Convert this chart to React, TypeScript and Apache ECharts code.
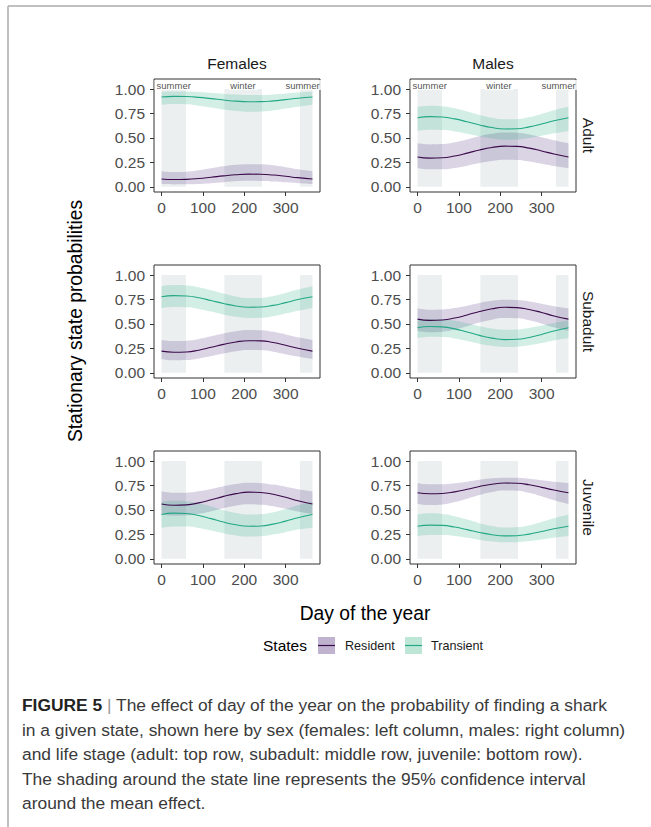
import React, { useEffect, useRef } from "react";
import * as echarts from "echarts";

// ---------- data ----------
const days = [0, 30, 60, 90, 120, 150, 180, 210, 240, 270, 300, 330, 365];
const xTicks = [0, 100, 200, 300];
const yTicks = [0, 0.25, 0.5, 0.75, 1];
const sexes = ["Females", "Males"];
const stages = ["Adult", "Subadult", "Juvenile"];
const states = ["Resident", "Transient"];
const seasonNames = ["summer", "winter", "summer"];
const seasonStart = [0, 152, 335];
const seasonEnd = [59, 243, 365];
const seasonLabelDay = [29.5, 197, 341];
const seasonLabelY = 1.04;

// Females – Adult
const femAdultResMean = [0.081, 0.075, 0.077, 0.085, 0.098, 0.112, 0.124, 0.13, 0.129, 0.121, 0.108, 0.094, 0.081];
const femAdultResLo = [0.028, 0.025, 0.026, 0.03, 0.038, 0.048, 0.057, 0.062, 0.061, 0.055, 0.046, 0.036, 0.028];
const femAdultResHi = [0.16, 0.152, 0.155, 0.17, 0.19, 0.21, 0.225, 0.232, 0.23, 0.22, 0.2, 0.18, 0.16];
const femAdultTraMean = [0.919, 0.925, 0.923, 0.915, 0.902, 0.888, 0.876, 0.87, 0.871, 0.879, 0.892, 0.906, 0.919];
const femAdultTraLo = [0.84, 0.848, 0.845, 0.83, 0.81, 0.79, 0.775, 0.768, 0.77, 0.78, 0.8, 0.82, 0.84];
const femAdultTraHi = [0.972, 0.975, 0.974, 0.97, 0.962, 0.952, 0.943, 0.938, 0.939, 0.945, 0.954, 0.964, 0.972];

// Males – Adult
const malAdultResMean = [0.306, 0.294, 0.297, 0.316, 0.345, 0.377, 0.402, 0.416, 0.414, 0.396, 0.367, 0.336, 0.306];
const malAdultResLo = [0.191, 0.179, 0.18, 0.194, 0.217, 0.243, 0.264, 0.276, 0.274, 0.259, 0.237, 0.214, 0.191];
const malAdultResHi = [0.446, 0.434, 0.437, 0.456, 0.485, 0.517, 0.542, 0.556, 0.554, 0.536, 0.507, 0.476, 0.446];
const malAdultTraMean = [0.706, 0.718, 0.714, 0.695, 0.665, 0.633, 0.606, 0.592, 0.594, 0.613, 0.642, 0.675, 0.706];
const malAdultTraLo = [0.571, 0.583, 0.581, 0.567, 0.543, 0.517, 0.494, 0.482, 0.484, 0.499, 0.522, 0.547, 0.571];
const malAdultTraHi = [0.818, 0.83, 0.824, 0.803, 0.77, 0.735, 0.706, 0.69, 0.692, 0.713, 0.746, 0.783, 0.818];

// Females – Subadult
const femSubResMean = [0.222, 0.211, 0.214, 0.232, 0.261, 0.291, 0.316, 0.329, 0.327, 0.31, 0.282, 0.251, 0.222];
const femSubResLo = [0.14, 0.129, 0.131, 0.147, 0.172, 0.199, 0.222, 0.234, 0.232, 0.217, 0.191, 0.166, 0.14];
const femSubResHi = [0.337, 0.326, 0.329, 0.346, 0.374, 0.402, 0.425, 0.437, 0.435, 0.419, 0.393, 0.364, 0.337];
const femSubTraMean = [0.778, 0.789, 0.786, 0.768, 0.739, 0.709, 0.684, 0.671, 0.673, 0.69, 0.718, 0.749, 0.778];
const femSubTraLo = [0.663, 0.674, 0.671, 0.654, 0.626, 0.597, 0.573, 0.561, 0.563, 0.579, 0.606, 0.635, 0.663];
const femSubTraHi = [0.886, 0.897, 0.894, 0.875, 0.844, 0.811, 0.78, 0.764, 0.766, 0.786, 0.817, 0.852, 0.886];

// Males – Subadult
const malSubResMean = [0.549, 0.536, 0.54, 0.56, 0.592, 0.627, 0.655, 0.67, 0.667, 0.648, 0.617, 0.582, 0.549];
const malSubResLo = [0.429, 0.416, 0.421, 0.443, 0.477, 0.515, 0.544, 0.56, 0.557, 0.537, 0.503, 0.465, 0.429];
const malSubResHi = [0.661, 0.646, 0.648, 0.662, 0.687, 0.715, 0.736, 0.747, 0.744, 0.73, 0.707, 0.682, 0.661];
const malSubTraMean = [0.461, 0.474, 0.47, 0.45, 0.418, 0.383, 0.355, 0.34, 0.343, 0.362, 0.393, 0.428, 0.461];
const malSubTraLo = [0.356, 0.369, 0.367, 0.352, 0.326, 0.298, 0.276, 0.264, 0.267, 0.282, 0.305, 0.332, 0.356];
const malSubTraHi = [0.535, 0.548, 0.546, 0.532, 0.506, 0.477, 0.453, 0.44, 0.443, 0.459, 0.483, 0.51, 0.535];

// Females – Juvenile
const femJuvResMean = [0.561, 0.548, 0.552, 0.572, 0.604, 0.639, 0.667, 0.682, 0.679, 0.66, 0.629, 0.594, 0.561];
const femJuvResLo = [0.456, 0.442, 0.444, 0.46, 0.487, 0.518, 0.543, 0.557, 0.554, 0.538, 0.512, 0.483, 0.456];
const femJuvResHi = [0.691, 0.676, 0.677, 0.69, 0.714, 0.742, 0.765, 0.777, 0.774, 0.759, 0.736, 0.712, 0.691];
const femJuvTraMean = [0.454, 0.467, 0.463, 0.443, 0.411, 0.376, 0.348, 0.333, 0.336, 0.355, 0.386, 0.421, 0.454];
const femJuvTraLo = [0.318, 0.332, 0.331, 0.316, 0.29, 0.262, 0.24, 0.228, 0.231, 0.248, 0.273, 0.299, 0.318];
const femJuvTraHi = [0.584, 0.595, 0.59, 0.568, 0.534, 0.496, 0.468, 0.453, 0.456, 0.476, 0.509, 0.548, 0.584];

// Males – Juvenile
const malJuvResMean = [0.676, 0.665, 0.668, 0.685, 0.711, 0.74, 0.763, 0.775, 0.773, 0.757, 0.731, 0.703, 0.676];
const malJuvResLo = [0.561, 0.55, 0.556, 0.58, 0.615, 0.653, 0.683, 0.699, 0.697, 0.675, 0.639, 0.599, 0.561];
const malJuvResHi = [0.776, 0.763, 0.763, 0.773, 0.789, 0.808, 0.823, 0.83, 0.828, 0.818, 0.803, 0.789, 0.776];
const malJuvTraMean = [0.334, 0.345, 0.342, 0.325, 0.299, 0.27, 0.247, 0.235, 0.237, 0.253, 0.279, 0.307, 0.334];
const malJuvTraLo = [0.234, 0.245, 0.245, 0.234, 0.215, 0.193, 0.177, 0.169, 0.171, 0.182, 0.199, 0.217, 0.234];
const malJuvTraHi = [0.454, 0.465, 0.459, 0.436, 0.402, 0.365, 0.336, 0.321, 0.323, 0.343, 0.377, 0.415, 0.454];

const captionLines = [
  "in a given state, shown here by sex (females: left column, males: right column)",
  "and life stage (adult: top row, subadult: middle row, juvenile: bottom row).",
  "The shading around the state line represents the 95% confidence interval",
  "around the mean effect.",
];

// ---------- styling ----------
const FONT = "'Liberation Sans', Arial, Helvetica, sans-serif";
const RES_LINE = "#3b0a4a";
const TRA_LINE = "#22a884";
const RES_FILL = "rgba(70,40,125,0.2)";
const TRA_FILL = "rgba(34,175,125,0.2)";
const SEASON_FILL = "#ebeff0";
const GRID_LEFT = [154, 410];
const GRID_TOP = [79, 265, 451];
const GRID_W = 166;
const GRID_H = 113;

const panels = [
  { res: [femAdultResMean, femAdultResLo, femAdultResHi], tra: [femAdultTraMean, femAdultTraLo, femAdultTraHi] },
  { res: [malAdultResMean, malAdultResLo, malAdultResHi], tra: [malAdultTraMean, malAdultTraLo, malAdultTraHi] },
  { res: [femSubResMean, femSubResLo, femSubResHi], tra: [femSubTraMean, femSubTraLo, femSubTraHi] },
  { res: [malSubResMean, malSubResLo, malSubResHi], tra: [malSubTraMean, malSubTraLo, malSubTraHi] },
  { res: [femJuvResMean, femJuvResLo, femJuvResHi], tra: [femJuvTraMean, femJuvTraLo, femJuvTraHi] },
  { res: [malJuvResMean, malJuvResLo, malJuvResHi], tra: [malJuvTraMean, malJuvTraLo, malJuvTraHi] },
];

// Same smoothing rule ECharts uses for `smooth: true` lines (0.5), applied to pixel points.
function smoothSegments(pts: number[][], smooth = 0.5): string {
  let d = "";
  let cpx0 = pts[0][0];
  let cpy0 = pts[0][1];
  for (let i = 1; i < pts.length; i++) {
    const [x, y] = pts[i];
    const [px, py] = pts[i - 1];
    let cpx1 = x, cpy1 = y, ncx = x, ncy = y;
    if (i < pts.length - 1) {
      const [nx, ny] = pts[i + 1];
      let vx = nx - px, vy = ny - py;
      const lp = Math.hypot(x - px, y - py);
      const ln = Math.hypot(nx - x, ny - y);
      const r = ln / (ln + lp);
      ncx = x + vx * smooth * r;
      ncy = y + vy * smooth * r;
      ncx = Math.max(Math.min(ncx, Math.max(nx, x)), Math.min(nx, x));
      ncy = Math.max(Math.min(ncy, Math.max(ny, y)), Math.min(ny, y));
      vx = ncx - x; vy = ncy - y;
      cpx1 = x - (vx * lp) / ln;
      cpy1 = y - (vy * lp) / ln;
      cpx1 = Math.max(Math.min(cpx1, Math.max(px, x)), Math.min(px, x));
      cpy1 = Math.max(Math.min(cpy1, Math.max(py, y)), Math.min(py, y));
      vx = x - cpx1; vy = y - cpy1;
      ncx = x + (vx * ln) / lp;
      ncy = y + (vy * ln) / lp;
    }
    d += ` C${cpx0.toFixed(2)},${cpy0.toFixed(2)} ${cpx1.toFixed(2)},${cpy1.toFixed(2)} ${x.toFixed(2)},${y.toFixed(2)}`;
    cpx0 = ncx;
    cpy0 = ncy;
  }
  return d;
}

function ribbonPath(upper: number[][], lower: number[][]): string {
  const low = lower.slice().reverse();
  return (
    `M${upper[0][0].toFixed(2)},${upper[0][1].toFixed(2)}` +
    smoothSegments(upper) +
    ` L${low[0][0].toFixed(2)},${low[0][1].toFixed(2)}` +
    smoothSegments(low) +
    " Z"
  );
}

function buildOption() {
  const grid: any[] = [];
  const xAxis: any[] = [];
  const yAxis: any[] = [];
  const series: any[] = [];
  const pair = (arr: number[]) => days.map((d, k) => [d, arr[k]]);

  panels.forEach((p, i) => {
    const row = Math.floor(i / 2);
    const col = i % 2;
    grid.push({
      left: GRID_LEFT[col], top: GRID_TOP[row], width: GRID_W, height: GRID_H,
      show: true, borderColor: "#333333", borderWidth: 1, backgroundColor: "#ffffff",
    });
    xAxis.push({
      type: "value", gridIndex: i, min: -18.25, max: 383.25,
      splitLine: { show: false },
      axisLine: { show: false, onZero: false },
      axisTick: { show: true, length: 4, customValues: xTicks, lineStyle: { color: "#333333", width: 1 } },
      axisLabel: { customValues: xTicks, color: "#4d4d4d", fontSize: 15.5, margin: 7, fontFamily: FONT },
    });
    yAxis.push({
      type: "value", gridIndex: i, min: -0.0525, max: 1.1025,
      splitLine: { show: false },
      axisLine: { show: false, onZero: false },
      axisTick: { show: true, length: 4, customValues: yTicks, lineStyle: { color: "#333333", width: 1 } },
      axisLabel: {
        customValues: yTicks, color: "#4d4d4d", fontSize: 15.5, margin: 9, fontFamily: FONT,
        formatter: (v: number) => v.toFixed(2),
      },
    });
    // seasons
    series.push({
      type: "line", xAxisIndex: i, yAxisIndex: i, data: [], silent: true, symbol: "none",
      markArea: {
        silent: true, itemStyle: { color: SEASON_FILL },
        data: seasonStart.map((s, k) => [{ xAxis: s, yAxis: 0 }, { xAxis: seasonEnd[k], yAxis: 1 }]),
      },
    });
    const [rM, rL, rH] = p.res;
    const [tM, tL, tH] = p.tra;
    const ribbon = (lo: number[], hi: number[], fill: string) => {
      series.push({
        type: "custom", xAxisIndex: i, yAxisIndex: i, silent: true, z: 2, clip: true,
        data: [[days[0], lo[0]]],
        renderItem: (_params: any, api: any) => {
          const up = days.map((d, k) => api.coord([d, hi[k]]));
          const dn = days.map((d, k) => api.coord([d, lo[k]]));
          return { type: "path", shape: { pathData: ribbonPath(up, dn) }, style: { fill, stroke: null } };
        },
      });
    };
    ribbon(rL, rH, RES_FILL);
    ribbon(tL, tH, TRA_FILL);
    series.push({
      type: "line", name: states[0], xAxisIndex: i, yAxisIndex: i, data: pair(rM), smooth: true, symbol: "none",
      lineStyle: { color: RES_LINE, width: 1.1 }, silent: true, z: 3,
    });
    series.push({
      type: "line", name: states[1], xAxisIndex: i, yAxisIndex: i, data: pair(tM), smooth: true, symbol: "none",
      lineStyle: { color: TRA_LINE, width: 1.1 }, silent: true, z: 3,
    });
    if (row === 0) {
      series.push({
        type: "scatter", xAxisIndex: i, yAxisIndex: i, silent: true, z: 5, symbolSize: 1,
        itemStyle: { color: "rgba(0,0,0,0)" },
        data: seasonLabelDay.map((d, k) => ({ value: [d, seasonLabelY], name: seasonNames[k] })),
        label: {
          show: true, position: "inside", formatter: (pp: any) => pp.name, fontSize: 9.5, color: "#1a1a1a",
          backgroundColor: "#ffffff", padding: [0, 2, 0, 2], lineHeight: 10, fontFamily: FONT,
        },
      });
    }
  });

  const graphic: any[] = [];
  // page frame
  graphic.push({ type: "line", shape: { x1: 8, y1: 6, x2: 651, y2: 6 }, style: { stroke: "#ababab", lineWidth: 1.5 }, silent: true });
  graphic.push({ type: "line", shape: { x1: 8, y1: 6, x2: 8, y2: 827 }, style: { stroke: "#ababab", lineWidth: 1.5 }, silent: true });
  // column titles
  sexes.forEach((s, c) => {
    graphic.push({
      type: "text", x: GRID_LEFT[c] + GRID_W / 2, y: 63,
      style: { text: s, fontSize: 15.5, fontFamily: FONT, fill: "#1a1a1a", textAlign: "center", textVerticalAlign: "middle" },
    });
  });
  // strip labels
  stages.forEach((s, r) => {
    graphic.push({
      type: "text", x: 588, y: GRID_TOP[r] + GRID_H / 2, rotation: -Math.PI / 2,
      style: { text: s, fontSize: 15.5, fontFamily: FONT, fill: "#1a1a1a", textAlign: "center", textVerticalAlign: "middle" },
    });
  });
  // axis titles
  graphic.push({
    type: "text", x: 75, y: 321, rotation: Math.PI / 2,
    style: { text: "Stationary state probabilities", fontSize: 19.3, fontFamily: FONT, fill: "#000", textAlign: "center", textVerticalAlign: "middle" },
  });
  graphic.push({
    type: "text", x: 365, y: 613,
    style: { text: "Day of the year", fontSize: 19.3, fontFamily: FONT, fill: "#000", textAlign: "center", textVerticalAlign: "middle" },
  });
  // legend
  const legY = 645.5;
  graphic.push({
    type: "text", x: 263, y: legY,
    style: { text: "States", fontSize: 15.5, fontFamily: FONT, fill: "#000", textAlign: "left", textVerticalAlign: "middle" },
  });
  const keyX = [318, 405];
  const keyFill = ["#bfb3d0", "#bde6d6"];
  const keyLine = [RES_LINE, TRA_LINE];
  const keyTextX = [345, 431];
  states.forEach((s, k) => {
    graphic.push({ type: "rect", shape: { x: keyX[k], y: legY - 8.5, width: 17, height: 17 }, style: { fill: keyFill[k] }, silent: true });
    graphic.push({ type: "line", shape: { x1: keyX[k], y1: legY, x2: keyX[k] + 17, y2: legY }, style: { stroke: keyLine[k], lineWidth: 1.2 }, silent: true });
    graphic.push({
      type: "text", x: keyTextX[k], y: legY,
      style: { text: s, fontSize: 12.6, fontFamily: FONT, fill: "#1a1a1a", textAlign: "left", textVerticalAlign: "middle" },
    });
  });
  // caption
  const capY0 = 705;
  const capStep = 24.5;
  graphic.push({
    type: "text", x: 22, y: capY0,
    style: {
      text: "{b|FIGURE 5} {s||} The effect of day of the year on the probability of finding a shark",
      fontSize: 17.4, fontFamily: FONT, fill: "#3a3a3a", textAlign: "left", textVerticalAlign: "middle",
      rich: {
        b: { fontWeight: "bold", fontSize: 17.4, fontFamily: FONT, fill: "#222" },
        s: { fontSize: 17.4, fontFamily: FONT, fill: "#999" },
      },
    },
  });
  captionLines.forEach((t, k) => {
    graphic.push({
      type: "text", x: 22, y: capY0 + capStep * (k + 1),
      style: { text: t, fontSize: 17.4, fontFamily: FONT, fill: "#3a3a3a", textAlign: "left", textVerticalAlign: "middle" },
    });
  });

  return {
    animation: false,
    backgroundColor: "#ffffff",
    grid, xAxis, yAxis, series, graphic,
  };
}

export default function App() {
  const ref = useRef<HTMLDivElement>(null);
  useEffect(() => {
    if (!ref.current) return;
    const chart = echarts.init(ref.current, undefined, { renderer: "svg" });
    chart.setOption(buildOption() as any);
    return () => chart.dispose();
  }, []);
  return <div ref={ref} style={{ position: "fixed", left: 0, top: 0, width: 651, height: 827 }} />;
}
